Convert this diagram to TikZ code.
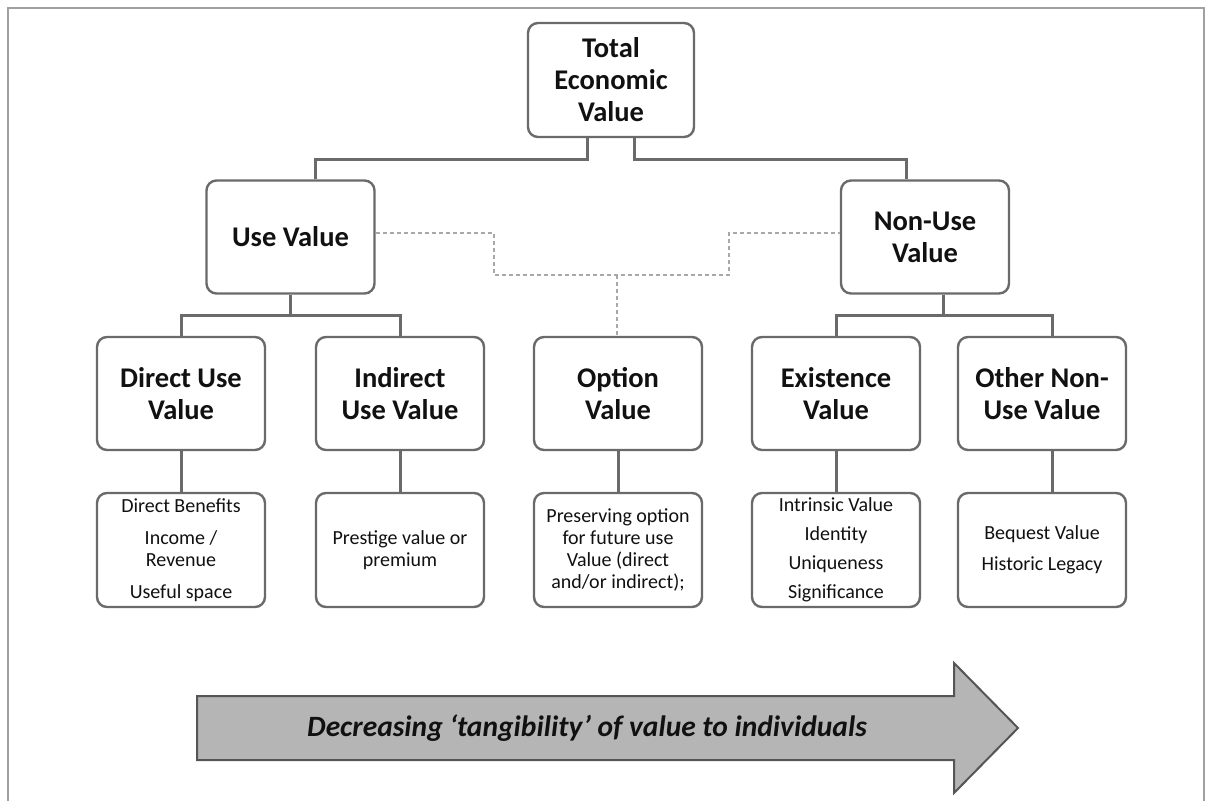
\documentclass[tikz,border=0pt]{standalone}
\usepackage{fontspec}
\setmainfont{Carlito}
\definecolor{boxgray}{HTML}{6A6A6A}
\definecolor{linegray}{HTML}{6A6A6A}
\definecolor{dashgray}{HTML}{A8A8A8}
\definecolor{framegray}{HTML}{A0A0A0}
\definecolor{arrowgray}{HTML}{B5B5B5}
\definecolor{arrowedge}{HTML}{555555}
\definecolor{ink}{HTML}{111111}
\begin{document}
\begin{tikzpicture}[x=1pt,y=-1pt,
  box/.style={draw=boxgray, line width=2.4pt, rounded corners=10pt, fill=white,
    minimum width=168pt, minimum height=113pt, inner sep=0pt, align=center, text=ink},
  title/.style={box, font=\fontsize{28.5}{32}\selectfont\bfseries},
  detail/.style={box, minimum height=114pt, font=\fontsize{20}{22}\selectfont},
  link/.style={draw=linegray, line width=3pt},
  optlink/.style={draw=dashgray, line width=1.2pt, dash pattern=on 4pt off 3pt},
  trendtext/.style={font=\fontsize{29.5}{34}\selectfont\bfseries\itshape, text=ink, inner sep=0pt}]
\useasboundingbox (0,0) rectangle (1212,800);

% outer frame
\draw[framegray, line width=2.5pt] (8,820) -- (8,8) -- (1204,8) -- (1204,820);

% top level
\node[title, minimum width=166pt, minimum height=114pt] (tev) at (611,80) {Total\\Economic\\Value};

% second level
\node[title] (use) at (290.5,237) {Use Value};
\node[title] (nonuse) at (925,237) {Non-Use\\Value};

% value categories
\node[title] (direct)   at (181,393.5)  {Direct Use\\Value};
\node[title] (indirect) at (400,393.5)  {Indirect\\Use Value};
\node[title] (option)   at (618,393.5)  {Option\\Value};
\node[title] (exist)    at (836,393.5)  {Existence\\Value};
\node[title] (other)    at (1042,393.5) {Other Non-\\Use Value};

% descriptions
\node[detail] (directd)   at (181,550)  {Direct Benefits\\[10pt]Income /\\Revenue\\[10pt]Useful space};
\node[detail] (indirectd) at (400,550)  {Prestige value or\\premium};
\node[detail] (optiond)   at (618,550)  {Preserving option\\for future use\\Value (direct\\and/or indirect);};
\node[detail] (existd)    at (836,550)  {Intrinsic Value\\[7pt]Identity\\[7pt]Uniqueness\\[7pt]Significance};
\node[detail] (otherd)    at (1042,550) {Bequest Value\\[9pt]Historic Legacy};

% tree connectors
\draw[link] ([xshift=-24pt]tev.south) -- ++(0,21) -| ([xshift=24.5pt]use.north);
\draw[link] ([xshift=23pt]tev.south) -- ++(0,21) -| ([xshift=-19pt]nonuse.north);
\draw[link] (use.south) -- ++(0,21) -| (direct.north);
\draw[link] (use.south) -- ++(0,21) -| (indirect.north);
\draw[link] ([xshift=18pt]nonuse.south) -- ++(0,21) -| (exist.north);
\draw[link] ([xshift=18pt]nonuse.south) -- ++(0,21) -| ([xshift=10pt]other.north);
\draw[link] (direct.south) -- (directd.north);
\draw[link] (indirect.south) -- (indirectd.north);
\draw[link] (option.south) -- (optiond.north);
\draw[link] (exist.south) -- (existd.north);
\draw[link] ([xshift=10pt]other.south) -- ([xshift=10pt]otherd.north);

% option value shares both branches
\coordinate (dl) at (494,275);
\coordinate (dr) at (729,275);
\coordinate (dm) at ([xshift=-1pt]option.north |- dl);
\draw[optlink] ([yshift=4pt]use.east) -| (dl) -- (dr) |- ([yshift=4pt]nonuse.west);
\draw[optlink] (dm) -- ([xshift=-1pt]option.north);

% tangibility arrow
\draw[fill=arrowgray, draw=arrowedge, line width=2pt, line join=miter]
  (197,696) -- (954,696) -- (954,663) -- (1018,728) -- (954,793) -- (954,760) -- (197,760) -- cycle;
\node[trendtext] (trend) at (587,728) {Decreasing ‘tangibility’ of value to individuals};
\end{tikzpicture}
\end{document}
